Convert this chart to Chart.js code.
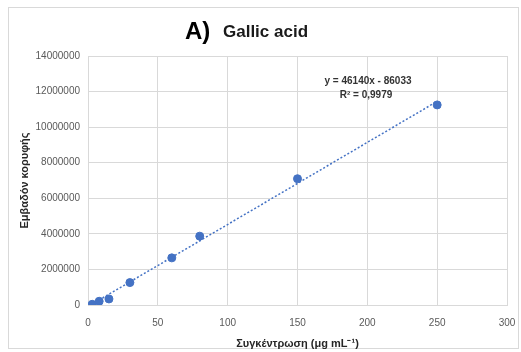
<!DOCTYPE html>
<html>
<head>
<meta charset="utf-8">
<script src="https://cdn.jsdelivr.net/npm/chart.js@4/dist/chart.umd.min.js"></script>
<style>
  html, body { margin: 0; padding: 0; background: #ffffff; }
  #wrap { position: relative; width: 521px; height: 352px; }
</style>
</head>
<body>
<div id="wrap"><canvas id="c" width="521" height="352"></canvas></div>
<script>
// ---- data ----
const concentration = [3, 8, 15, 30, 60, 80, 150, 250];
const peakArea = [40000, 210000, 340000, 1260000, 2650000, 3870000, 7100000, 11250000];
const trendX = [3, 250];
const trendY = [52000, 11450000];
const xTicks = [0, 50, 100, 150, 200, 250, 300];
const yTicks = [0, 2000000, 4000000, 6000000, 8000000, 10000000, 12000000, 14000000];
const titleLetter = 'A)';
const titleName = 'Gallic acid';
const equationText = 'y = 46140x - 86033';
const r2Text = 'R² = 0,9979';
const xTitle = 'Συγκέντρωση (μg mL⁻¹)';
const yTitle = 'Εμβαδόν κορυφής';

const FONT = '"Liberation Sans", Arial, sans-serif';
const BLUE = '#4472C4';
const GRID = '#d9d9d9';

const decor = {
  id: 'decor',
  beforeDraw(chart) {
    const ctx = chart.ctx;
    ctx.save();
    ctx.fillStyle = '#ffffff';
    ctx.fillRect(0, 0, chart.width, chart.height);
    ctx.strokeStyle = GRID;
    ctx.lineWidth = 1;
    ctx.strokeRect(8.5, 7.5, 510, 341);
    ctx.restore();
  },
  afterDraw(chart) {
    const ctx = chart.ctx;
    ctx.save();
    ctx.fillStyle = '#000000';
    ctx.textBaseline = 'alphabetic';
    ctx.textAlign = 'left';
    ctx.font = 'bold 24px ' + FONT;
    ctx.fillText(titleLetter, 185, 39);
    ctx.fillStyle = '#1a1a1a';
    ctx.font = 'bold 17px ' + FONT;
    ctx.fillText(titleName, 223, 37);
    ctx.fillStyle = '#333333';
    ctx.font = 'bold 10px ' + FONT;
    ctx.textAlign = 'center';
    ctx.textBaseline = 'middle';
    ctx.fillText(equationText, 368, 81);
    ctx.fillText(r2Text, 366, 95);
    ctx.restore();
  }
};

new Chart(document.getElementById('c'), {
  type: 'scatter',
  data: {
    datasets: [
      {
        label: 'trend',
        type: 'line',
        data: trendX.map((x, i) => ({ x: x, y: trendY[i] })),
        borderColor: BLUE,
        borderWidth: 1.5,
        borderDash: [2, 2],
        pointRadius: 0,
        fill: false,
        order: 2
      },
      {
        label: 'data',
        data: concentration.map((x, i) => ({ x: x, y: peakArea[i] })),
        backgroundColor: BLUE,
        borderColor: BLUE,
        pointRadius: 4,
        order: 1
      }
    ]
  },
  options: {
    responsive: false,
    animation: false,
    devicePixelRatio: 1,
    layout: { padding: { top: 56, right: 14, left: 0, bottom: 0 } },
    plugins: { legend: { display: false }, tooltip: { enabled: false }, title: { display: false } },
    scales: {
      x: {
        type: 'linear',
        min: 0, max: 300,
        afterBuildTicks(s) { s.ticks = xTicks.map(v => ({ value: v })); },
        afterFit(s) { s.height = 47; s.paddingLeft = 0; s.paddingRight = 0; },
        grid: { color: GRID, drawTicks: false, lineWidth: 1 },
        border: { color: GRID },
        ticks: { color: '#595959', font: { family: FONT, size: 10 }, padding: 12 },
        title: { display: true, text: xTitle, color: '#262626', font: { family: FONT, size: 11, weight: 'bold' }, padding: { top: 0, bottom: 1 } }
      },
      y: {
        type: 'linear',
        min: 0, max: 14000000,
        afterBuildTicks(s) { s.ticks = yTicks.map(v => ({ value: v })); },
        afterFit(s) { s.width = 88; s.paddingTop = 0; s.paddingBottom = 0; },
        grid: { color: GRID, drawTicks: false, lineWidth: 1 },
        border: { color: GRID },
        ticks: { color: '#595959', font: { family: FONT, size: 10 }, padding: 8, callback: v => String(v) },
        title: { display: true, text: yTitle, color: '#262626', font: { family: FONT, size: 11, weight: 'bold' }, padding: { top: 18, bottom: 0 } }
      }
    }
  },
  plugins: [decor]
});
</script>
</body>
</html>
